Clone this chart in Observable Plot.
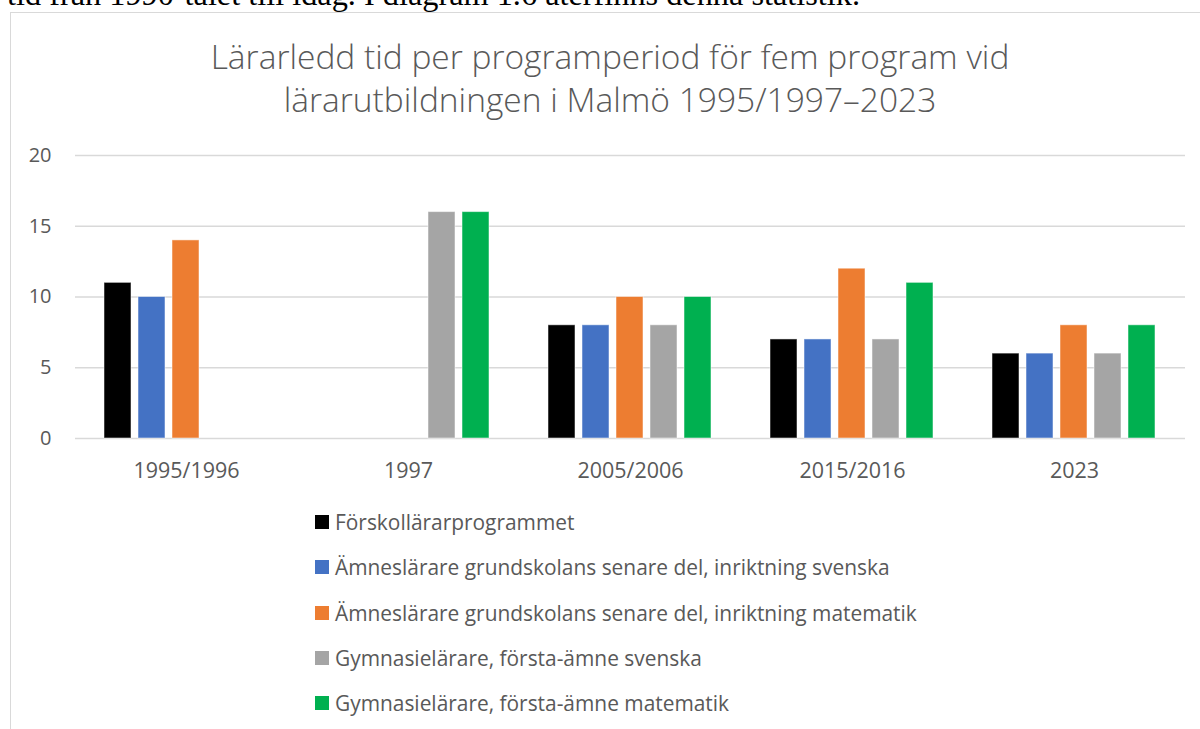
<!DOCTYPE html>
<html>
<head>
<meta charset="utf-8">
<script src="https://cdn.jsdelivr.net/npm/d3@7"></script>
<script src="https://cdn.jsdelivr.net/npm/@observablehq/plot@0.6"></script>
<style>
  html, body { margin: 0; padding: 0; background: #fff; width: 1200px; height: 729px; overflow: hidden; }
  #page { position: relative; width: 1200px; height: 729px; overflow: hidden; }
  #toptext { position: absolute; left: 7px; top: -22px; font-family: "Liberation Serif", serif; font-size: 32.3px; line-height: 32px; color: #000; white-space: nowrap; }
  #frame { position: absolute; left: 10px; top: 12px; width: 1300px; height: 800px; border-left: 1px solid #d9d9d9; border-top: 1px solid #d9d9d9; }
  #title { position: absolute; left: 0; width: 1220px; top: 35px; text-align: center; font-family: "Open Sans", sans-serif; font-weight: 300; font-size: 33.5px; line-height: 43px; color: #595959; }
  #chart { position: absolute; left: 0; top: 130px; }
  #legend { position: absolute; left: 315px; top: 508px; font-family: "Open Sans", sans-serif; font-size: 20.9px; line-height: 28px; color: #595959; }
  .item { height: 45.3px; display: flex; align-items: flex-start; }
  .sw { width: 14px; height: 14px; margin-top: 7px; margin-right: 6px; flex: none; }
</style>
</head>
<body>
<div id="page">
  <div id="toptext">tid från 1990-talet till idag. I diagram 1.6 återfinns denna statistik.</div>
  <div id="frame"></div>
  <div id="title">Lärarledd tid per programperiod för fem program vid<br>lärarutbildningen i Malmö 1995/1997–2023</div>
  <div id="chart"></div>
  <div id="legend"></div>
</div>
<script>
const periods = ["1995/1996", "1997", "2005/2006", "2015/2016", "2023"];
const programs = [
  "Förskollärarprogrammet",
  "Ämneslärare grundskolans senare del, inriktning svenska",
  "Ämneslärare grundskolans senare del, inriktning matematik",
  "Gymnasielärare, första-ämne svenska",
  "Gymnasielärare, första-ämne matematik"
];
const colors = ["#000000", "#4472C4", "#ED7D31", "#A5A5A5", "#00B050"];
const forskollarar   = [11, null, 8, 7, 6];
const grundSvenska   = [10, null, 8, 7, 6];
const grundMatematik = [14, null, 10, 12, 8];
const gymnSvenska    = [null, 16, 8, 7, 6];
const gymnMatematik  = [null, 16, 10, 11, 8];
const yTicks = [0, 5, 10, 15, 20];

const series = [forskollarar, grundSvenska, grundMatematik, gymnSvenska, gymnMatematik];
const data = [];
periods.forEach((p, i) => {
  programs.forEach((prog, j) => {
    const v = series[j][i];
    if (v != null) data.push({period: p, program: prog, value: v});
  });
});

const chart = Plot.plot({
  width: 1200,
  height: 360,
  marginLeft: 74,
  marginRight: 15,
  marginTop: 25,
  marginBottom: 52,
  style: {fontFamily: "'Open Sans', sans-serif", fontSize: "20px", color: "#595959", background: "transparent", overflow: "visible"},
  facet: {data, x: "period"},
  fx: {domain: periods, padding: 0, label: null, axis: "bottom", tickSize: 0, tickPadding: 24, tickFormat: d => d},
  x: {domain: programs, paddingInner: 0.2, paddingOuter: 0.82, axis: null},
  y: {domain: [0, 20], ticks: yTicks, label: null, tickSize: 0, tickPadding: 24},
  color: {domain: programs, range: colors},
  marks: [
    Plot.ruleY(yTicks, {stroke: "#d9d9d9", strokeWidth: 1.6}),
    Plot.barY(data, {x: "program", y: "value", fill: "program", stroke: "#ffffff", strokeOpacity: 0.5, strokeWidth: 1})
  ]
});
chart.querySelectorAll("g[aria-label='fx-axis'] text, g[aria-label='fx-axis tick label'] text").forEach(t => t.style.fontSize = "21.5px");
document.getElementById("chart").appendChild(chart);

const legend = document.getElementById("legend");
programs.forEach((p, i) => {
  const item = document.createElement("div");
  item.className = "item";
  const sw = document.createElement("span");
  sw.className = "sw";
  sw.style.background = colors[i];
  const t = document.createElement("span");
  t.textContent = p;
  item.appendChild(sw);
  item.appendChild(t);
  legend.appendChild(item);
});
</script>
</body>
</html>
